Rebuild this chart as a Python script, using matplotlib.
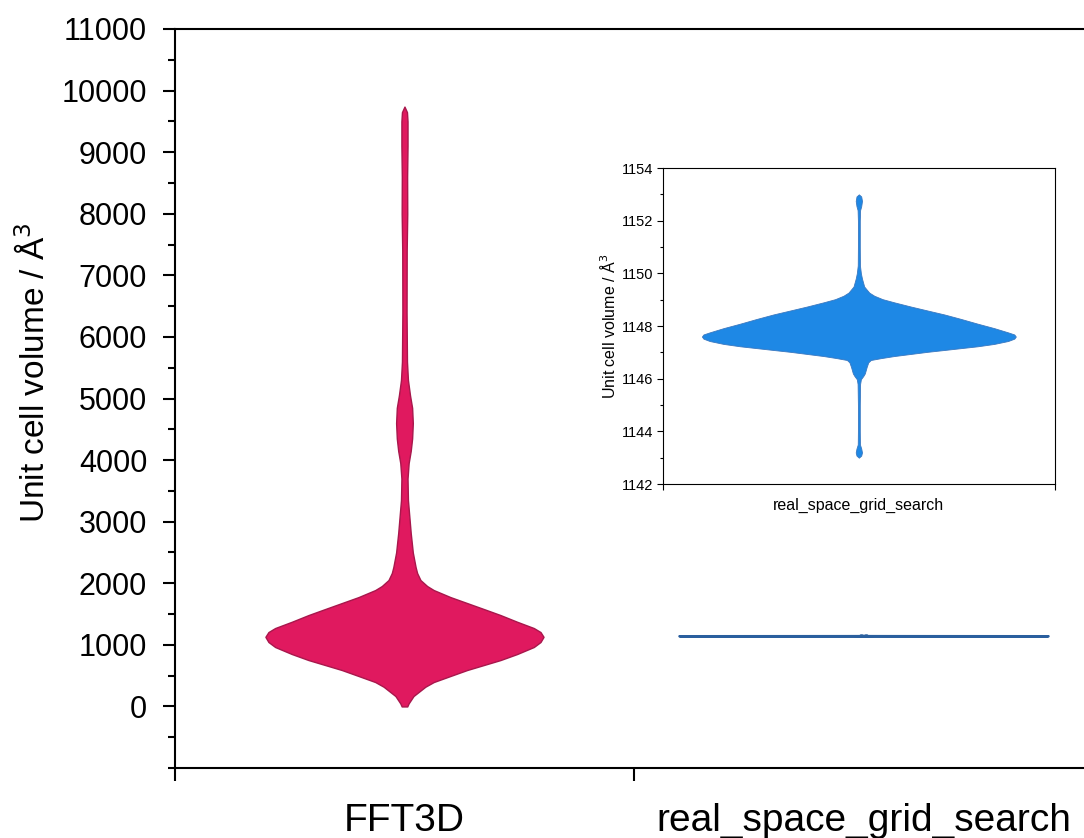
import numpy as np
import matplotlib.pyplot as plt
from matplotlib.ticker import MultipleLocator

plt.rcParams['font.family'] = ['Liberation Sans', 'DejaVu Sans']

groups = ['FFT3D', 'real_space_grid_search']

# FFT3D violin: volume levels (A^3) and relative density
fft_vol = [0, 50, 169, 320, 396, 494, 591, 672, 753, 851, 965, 1046, 1130,
           1208, 1273, 1375, 1484, 1582, 1679, 1776, 1890, 1955, 2052, 2166,
           2263, 2500, 2815, 3350, 3700, 3950, 4150, 4350, 4600, 4850, 5050,
           5300, 5600, 6400, 7400, 8000, 8600, 9100, 9500, 9650, 9740]
fft_dens = [0.02, 0.03, 0.065, 0.15, 0.21, 0.33, 0.45, 0.57, 0.69, 0.81,
            0.93, 0.978, 1.0, 0.978, 0.93, 0.81, 0.69, 0.57, 0.45, 0.33,
            0.21, 0.163, 0.115, 0.091, 0.08, 0.06, 0.045, 0.025, 0.022, 0.03,
            0.045, 0.055, 0.06, 0.055, 0.04, 0.025, 0.018, 0.015, 0.016,
            0.02, 0.019, 0.022, 0.022, 0.018, 0.0]

# real_space_grid_search violin (same idea, much narrower spread)
rsgs_vol = [1143.0, 1143.08, 1143.2, 1143.35, 1143.5, 1144.0, 1145.0, 1145.8,
            1145.98, 1146.1, 1146.2, 1146.45, 1146.62, 1146.71, 1146.78,
            1146.86, 1146.94, 1147.02, 1147.09, 1147.16, 1147.23, 1147.32,
            1147.43, 1147.52, 1147.6, 1147.68, 1147.76, 1147.92, 1148.09,
            1148.27, 1148.44, 1148.59, 1148.74, 1148.9, 1149.02, 1149.15,
            1149.27, 1149.5, 1149.8, 1150.0, 1150.3, 1151.0, 1152.0, 1152.4,
            1152.55, 1152.75, 1152.92, 1153.0]
rsgs_dens = [0.0, 0.015, 0.02, 0.015, 0.007, 0.006, 0.006, 0.008, 0.013,
             0.028, 0.038, 0.05, 0.06, 0.076, 0.14, 0.225, 0.331, 0.437,
             0.544, 0.65, 0.756, 0.862, 0.95, 0.99, 1.0, 0.99, 0.95, 0.862,
             0.756, 0.65, 0.544, 0.437, 0.331, 0.225, 0.151, 0.098, 0.066,
             0.034, 0.02, 0.013, 0.007, 0.006, 0.006, 0.008, 0.015, 0.02,
             0.015, 0.0]

PINK = '#e0195f'
PINK_EDGE = '#a8174c'
BLUE = '#1e88e5'
BLUE_EDGE = '#2a5f9e'


def draw_violin(ax, pos, vol, dens, half_width, face, edge, lw):
    vol = np.asarray(vol)
    d = np.asarray(dens) * half_width
    ax.fill_betweenx(vol, pos - d, pos + d, facecolor=face,
                     edgecolor=edge, linewidth=lw, zorder=3)


def style_axis(ax, lw, major_len, minor_len):
    for s in ax.spines.values():
        s.set_linewidth(lw)
    ax.tick_params(axis='both', which='major', direction='out',
                   length=major_len, width=lw)
    ax.tick_params(axis='both', which='minor', direction='out',
                   length=minor_len, width=lw)


def main():
    fig = plt.figure(figsize=(10.84, 8.38), dpi=100)

    # main axes (right end runs past the figure edge, like the original)
    ax = fig.add_axes([0.1614, 0.0835, 0.8469, 0.8819])
    draw_violin(ax, 0.5, fft_vol, fft_dens, 0.303, PINK, PINK_EDGE, 1.0)
    draw_violin(ax, 1.5, rsgs_vol, rsgs_dens, 0.402, BLUE, BLUE_EDGE, 1.8)

    ax.set_xlim(0, 2)
    ax.set_ylim(-1000, 11000)
    ax.set_yticks(range(0, 11001, 1000))
    ax.yaxis.set_minor_locator(MultipleLocator(500))
    ax.set_xticks([0, 1, 2])
    ax.set_xticklabels([])
    ax.set_xticks([0.5, 1.5], minor=True)
    ax.set_xticklabels(groups, minor=True, fontsize=28)
    ax.spines['right'].set_visible(False)
    style_axis(ax, 1.5, 9, 5)
    ax.tick_params(axis='x', which='minor', length=0, pad=25)
    ax.tick_params(axis='y', which='major', labelsize=22, pad=11)
    ax.set_ylabel('Unit cell volume / Å$^3$', fontsize=24)
    ax.yaxis.set_label_coords(-0.134, 0.535)

    # inset zoom on real_space_grid_search
    ins = fig.add_axes([0.6113, 0.4224, 0.3620, 0.3771])
    draw_violin(ins, 0.5, rsgs_vol, rsgs_dens, 0.4, BLUE, '#3a78c0', 0.6)
    ins.set_xlim(0, 1)
    ins.set_ylim(1142, 1154)
    ins.yaxis.set_major_locator(MultipleLocator(2))
    ins.yaxis.set_minor_locator(MultipleLocator(1))
    ins.set_xticks([0, 1])
    ins.set_xticklabels([])
    style_axis(ins, 0.8, 4.5, 2.5)
    ins.tick_params(axis='y', labelsize=10.5, pad=2)
    ins.set_xlabel('real_space_grid_search', fontsize=11.5, labelpad=2)
    ins.set_ylabel('Unit cell volume / Å$^3$', fontsize=11.5, labelpad=3)

    fig.savefig('out.png', dpi=100)


if __name__ == "__main__":
    main()
